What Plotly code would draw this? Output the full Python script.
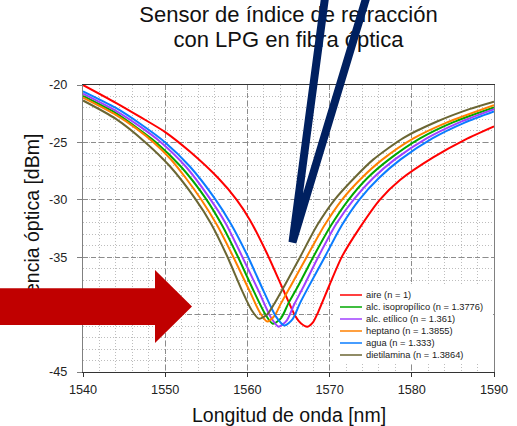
import plotly.graph_objects as go

# ---------------- data ----------------
series_names = [
    "aire (n = 1)",
    "alc. isopropílico (n = 1.3776)",
    "alc. etílico (n = 1.361)",
    "heptano (n = 1.3855)",
    "agua (n = 1.333)",
    "dietilamina (n = 1.3864)",
]
series_colors = ["#FF0000", "#00A800", "#A040FF", "#FF8000", "#0A7CFF", "#6B6633"]

wl_aire = [1540, 1544, 1547, 1550, 1553, 1556.5, 1558.7, 1560.3, 1562.4, 1564.4,
           1565.8, 1566.5, 1567.3, 1568.0, 1568.6, 1570.0, 1571.5, 1573.7, 1576.1, 1578.6,
           1582.6, 1586.5, 1590]
p_aire = [-20.0, -21.55, -22.8, -24.1, -25.8, -28.15, -30.0, -31.75, -34.7, -37.9,
          -40.1, -40.75, -41.05, -40.65, -39.8, -37.4, -34.95, -32.4, -30.0, -28.25,
          -26.3, -24.75, -23.6]

wl_isopropilico = [1540, 1544, 1546.8, 1548.9, 1551.9, 1554.9, 1556.9, 1558.8, 1560.8, 1562.2,
                   1563.1, 1564.1, 1565.0, 1566.1, 1568.0, 1570.2, 1572.3, 1574.6, 1577.2,
                   1581.0, 1585.0, 1590]
p_isopropilico = [-20.95, -22.45, -23.85, -25.0, -27.1, -29.85, -32.2, -34.9, -38.0, -40.0,
                  -40.8, -40.3, -39.0, -37.6, -35.0, -32.2, -30.0, -28.1, -26.5,
                  -24.65, -23.25, -21.95]

wl_etilico = [1540, 1544, 1547, 1549.5, 1552.5, 1555.4, 1557.4, 1559.3, 1561.4, 1562.9,
              1563.8, 1564.8, 1565.7, 1566.8, 1568.6, 1570.8, 1572.9, 1575.3, 1577.9,
              1581.8, 1585.8, 1590]
p_etilico = [-20.75, -22.25, -23.65, -25.0, -27.1, -29.85, -32.1, -34.85, -38.0, -40.3,
             -41.05, -40.5, -39.1, -37.6, -35.0, -32.1, -30.0, -28.1, -26.5,
             -24.65, -23.25, -22.1]

wl_heptano = [1540, 1544, 1546.5, 1548.6, 1550.6, 1552.5, 1554.4, 1556.3, 1558.3, 1560.3,
              1561.5, 1562.4, 1563.3, 1564.1, 1565.2, 1567.2, 1569.4, 1571.5, 1573.9,
              1576.4, 1580.2, 1584.3, 1590]
p_heptano = [-21.1, -22.6, -23.8, -25.0, -26.4, -28.1, -30.0, -32.2, -35.0, -38.0,
             -39.8, -40.6, -40.1, -39.0, -37.6, -35.0, -32.2, -30.0, -28.1,
             -26.5, -24.65, -23.25, -21.75]

wl_agua = [1540, 1544, 1547, 1550, 1553, 1556, 1558, 1560, 1562, 1563.5, 1564.5, 1565.5,
           1566.4, 1567.5, 1569.4, 1571.5, 1573.6, 1576, 1578.6, 1582.5, 1586.5, 1590]
p_agua = [-20.55, -22.0, -23.4, -25.0, -27.1, -29.85, -32.1, -34.85, -38.0, -40.2, -40.95, -40.4,
          -39.0, -37.5, -35.0, -32.2, -30.0, -28.1, -26.5, -24.65, -23.25, -22.3]

wl_dietilamina = [1540, 1544, 1547.6, 1550.6, 1553.6, 1555.6, 1557.5, 1559.4, 1560.5,
                  1561.4, 1562.4, 1563.4, 1564.5, 1566.4, 1568.5, 1570.6, 1573.0, 1575.3,
                  1579.0, 1583.0, 1587.0, 1590]
p_dietilamina = [-21.35, -22.95, -25.0, -27.1, -29.85, -32.1, -34.85, -38.0, -39.6,
                 -40.35, -40.0, -38.9, -37.5, -35.0, -32.2, -30.0, -28.1, -26.5,
                 -24.6, -23.2, -22.1, -21.45]

x_tick_vals = [1540, 1550, 1560, 1570, 1580, 1590]
x_tick_text = ["1540", "1550", "1560", "1570", "1580", "1590"]
y_tick_vals = [-45, -40, -35, -30, -25, -20]
y_tick_text = ["-45", "-40", "-35", "-30", "-25", "-20"]

title_line1 = "Sensor de índice de refracción"
title_line2 = "con LPG en fibra óptica"
x_title = "Longitud de onda [nm]"
y_title = "Potencia óptica [dBm]"

all_wl = [wl_aire, wl_isopropilico, wl_etilico, wl_heptano, wl_agua, wl_dietilamina]
all_p = [p_aire, p_isopropilico, p_etilico, p_heptano, p_agua, p_dietilamina]

FONT = "Arial, Liberation Sans, sans-serif"

# ---------------- figure ----------------
fig = go.Figure()
for name, col, xs, ys in zip(series_names, series_colors, all_wl, all_p):
    fig.add_trace(go.Scatter(x=xs, y=ys, mode="lines", name=name,
                             line=dict(color=col, width=2, shape="spline", smoothing=0.7)))

fig.update_layout(
    width=517, height=426,
    margin=dict(l=83, r=23, t=85, b=54, autoexpand=False),
    paper_bgcolor="white", plot_bgcolor="white",
    showlegend=False,
    font=dict(family=FONT, color="#1a1a1a"),
)

fig.update_xaxes(
    range=[1540, 1590], tickmode="array", tickvals=x_tick_vals, ticktext=x_tick_text,
    ticks="outside", ticklen=4, tickcolor="#333333", tickwidth=1,
    showline=True, linecolor="#333333", linewidth=1.3, mirror=True,
    showgrid=True, gridcolor="#8c8c8c", gridwidth=1, griddash="5px,3px",
    minor=dict(tickmode="linear", tick0=1540, dtick=2, showgrid=True,
               gridcolor="#bdbdbd", gridwidth=1, griddash="1px,2px"),
    zeroline=False, tickfont=dict(size=12.7, color="#222222"),
    ticklabelstandoff=2, automargin=False,
)
fig.update_yaxes(
    range=[-45, -20], tickmode="array", tickvals=y_tick_vals, ticktext=y_tick_text,
    ticks="outside", ticklen=5, tickcolor="#808080", tickwidth=1,
    showline=True, linecolor="#808080", linewidth=1.3, mirror=True,
    showgrid=True, gridcolor="#8c8c8c", gridwidth=1, griddash="5px,3px",
    minor=dict(tickmode="linear", tick0=-45, dtick=1, showgrid=True,
               gridcolor="#bdbdbd", gridwidth=1, griddash="1px,2px"),
    zeroline=False, tickfont=dict(size=12.7, color="#222222"),
    ticklabelstandoff=7, automargin=False,
)

shapes = []
# title lines (as shape labels so the overlay strokes can sit above them)
for txt, yc in [(title_line1, 1.251), (title_line2, 1.166)]:
    shapes.append(dict(type="rect", xref="paper", yref="paper", x0=0, x1=1,
                       y0=yc - 0.01, y1=yc + 0.01, line=dict(width=0),
                       fillcolor="rgba(0,0,0,0)", layer="above",
                       label=dict(text=txt, font=dict(size=22, color="#111111", family=FONT),
                                  textposition="middle center", padding=0)))
# y axis title
shapes.append(dict(type="rect", xref="paper", yref="paper", x0=-0.1323, x1=-0.1233,
                   y0=0, y1=1, line=dict(width=0), fillcolor="rgba(0,0,0,0)", layer="above",
                   label=dict(text=y_title, font=dict(size=19.5, color="#111111", family=FONT),
                              textangle=-90, textposition="middle center", padding=0)))
# red arrow overlay
shapes.append(dict(type="path", xref="paper", yref="paper", layer="above",
                   path="M -0.21,0.2916 L 0.1752,0.2916 L 0.1752,0.3554 L 0.2652,0.2282 "
                        "L 0.1752,0.1010 L 0.1752,0.1638 L -0.21,0.1638 Z",
                   fillcolor="#C00000", line=dict(width=0)))
# navy V overlay
shapes.append(dict(type="path", xref="paper", yref="paper", layer="above",
                   path="M 0.5912,1.33 L 0.5097,0.452 L 0.6946,1.33",
                   line=dict(color="#002060", width=8)))
# legend box
shapes.append(dict(type="rect", xref="paper", yref="paper", layer="above",
                   x0=0.6083, x1=0.9976, y0=0.0348, y1=0.3031,
                   fillcolor="white", line=dict(width=0)))
annotations = []
row_py = [295, 307, 319, 331, 343, 355]
for name, col, py in zip(series_names, series_colors, row_py):
    yp = (372 - py) / 287
    shapes.append(dict(type="line", xref="paper", yref="paper", layer="above",
                       x0=0.6253, x1=0.6788, y0=yp, y1=yp, line=dict(color=col, width=1.5)))
    annotations.append(dict(xref="paper", yref="paper", x=0.6837, y=yp, text=name,
                            xanchor="left", yanchor="middle", showarrow=False,
                            font=dict(size=9.3, color="#1a1a1a", family=FONT)))
# x axis title
annotations.append(dict(xref="paper", yref="paper", x=0.5, y=-0.150, text=x_title,
                        xanchor="center", yanchor="middle", showarrow=False,
                        font=dict(size=19.5, color="#111111", family=FONT)))

fig.update_layout(shapes=shapes, annotations=annotations)
# remove the default 8px page margin so the figure fills the window exactly
fig.write_html("out.html", config={"displayModeBar": False},
               post_script="document.body.style.margin='0px';")
